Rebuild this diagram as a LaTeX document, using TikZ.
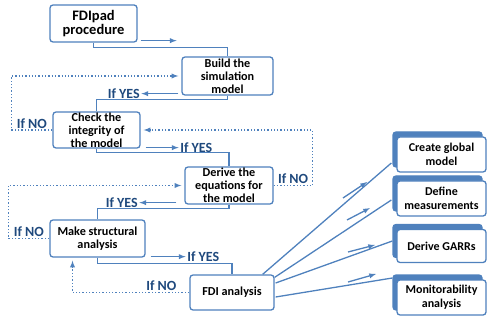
\documentclass[tikz,border=0pt]{standalone}
\usepackage{fontspec}
\setmainfont{Carlito}
\usepackage{tikz}
\usetikzlibrary{positioning,shadows}
\definecolor{fdiblue}{RGB}{79,129,189}
\definecolor{fdidark}{RGB}{31,73,125}
\tikzstyle{stepbox} = [draw=fdiblue, line width=1.3pt, fill=white,
    rectangle, rounded corners=3pt, inner sep=0pt, align=center,
    font=\bfseries\fontsize{12.2}{13}\selectfont, minimum height=36pt]
\tikzstyle{taskbox} = [stepbox, font=\bfseries\fontsize{12}{14}\selectfont,
    minimum width=89pt, minimum height=35pt,
    copy shadow={shadow xshift=-4pt, shadow yshift=5pt, fill=fdiblue, draw=fdiblue}]
\tikzstyle{link} = [draw=fdiblue, line width=1.3pt]
\tikzstyle{arr} = [link, -latex]
\tikzstyle{noline} = [draw=fdiblue, line width=1.3pt, dotted, -latex, shorten >=3pt]
\tikzstyle{answer} = [text=fdidark, font=\bfseries\fontsize{14}{16}\selectfont, inner sep=1pt]

\begin{document}
\begin{tikzpicture}[x=1pt, y=-1pt]
\useasboundingbox (0,0) rectangle (489,320);

\node [stepbox, font=\bfseries\fontsize{14.5}{14.5}\selectfont,
    minimum width=87pt, minimum height=37pt] (fdipad) at (93.5,23.5) {FDIpad\\procedure};
\node [stepbox, minimum width=91pt, minimum height=38pt] (build) at (227.5,76) {Build the\\simulation\\model};
\node [stepbox, minimum width=87pt] (check) at (96.5,130) {Check the\\integrity of\\the model};
\node [stepbox, minimum width=88pt, minimum height=37pt] (derive) at (229,185.5) {Derive the\\equations for\\the model};
\node [stepbox, minimum width=95pt, minimum height=37pt] (structural) at (97.5,238.5) {Make structural\\analysis};
\node [stepbox, minimum width=84pt, minimum height=35pt] (fdi) at (232,292.5) {FDI analysis};

\node [taskbox] (global) at (441.5,154.5) {Create global\\model};
\node [taskbox] (measure) at (441.5,198.5) {Define\\measurements};
\node [taskbox, minimum height=33pt] (garr) at (441.5,246) {Derive GARRs};
\node [taskbox] (monitor) at (441.5,297.5) {Monitorability\\analysis};

% main chain
\draw [link] (fdipad.south) -- ++(0,5) -| (build.north);
\draw [arr] ([shift={(3,-2)}]fdipad.south east) -- ++(36,0);

\draw [link] (build.south) -- ++(0,4) -| (check.north);
\draw [arr] ([shift={(-3,-2)}]build.south west) -- ++(-37,0) node[answer, left] {If YES};
\draw [noline] (check.west) -- node[answer, above] {If NO} ++(-41,0) |- (build.west);

\draw [link] (check.south) -- ++(0,4) -| (derive.north);
\draw [arr] ([shift={(5,-1)}]check.south east) -- ++(33,0) node[answer, right] {If YES};
\draw [noline] (derive.east) -- node[answer, above] {If NO} ++(39,0) |- (check.east);

\draw [link] (derive.south) -- ++(0,4) -| (structural.north);
\draw [arr] ([shift={(-8,-2)}]derive.south west) -- ++(-37,0) node[answer, left] {If YES};
\draw [noline] (structural.west) -- node[answer, above] {If NO} ++(-41,0) |- (derive.west);

\draw [link] (structural.south) -- ++(0,6) -| (fdi.north);
\draw [arr] ([shift={(5,-1)}]structural.south east) -- ++(35,0) node[answer, right] {If YES};
\draw [noline] (fdi.west) -| node[answer, pos=0.12, above] {If NO} ([xshift=-25pt]structural.south);

% FDI analysis branches
\draw [link] ([xshift=-12pt]fdi.north east) -- ([shift={(-5,8.5)}]global.west);
\draw [link] ([shift={(0,3)}]fdi.north east) -- ([shift={(-5,1.5)}]measure.west);
\draw [link] ([shift={(1,-9.5)}]fdi.east) -- ([shift={(-4,-5)}]garr.west);
\draw [link] ([shift={(1,4.5)}]fdi.east) -- ([shift={(-4,-19.5)}]monitor.west);

\draw [arr] (343,198) -- (367,182);
\draw [arr] (347,220) -- (370,208);
\draw [arr] (348,252) -- (375,245);
\draw [arr] (348,282) -- (376,274);

\end{tikzpicture}
\end{document}
